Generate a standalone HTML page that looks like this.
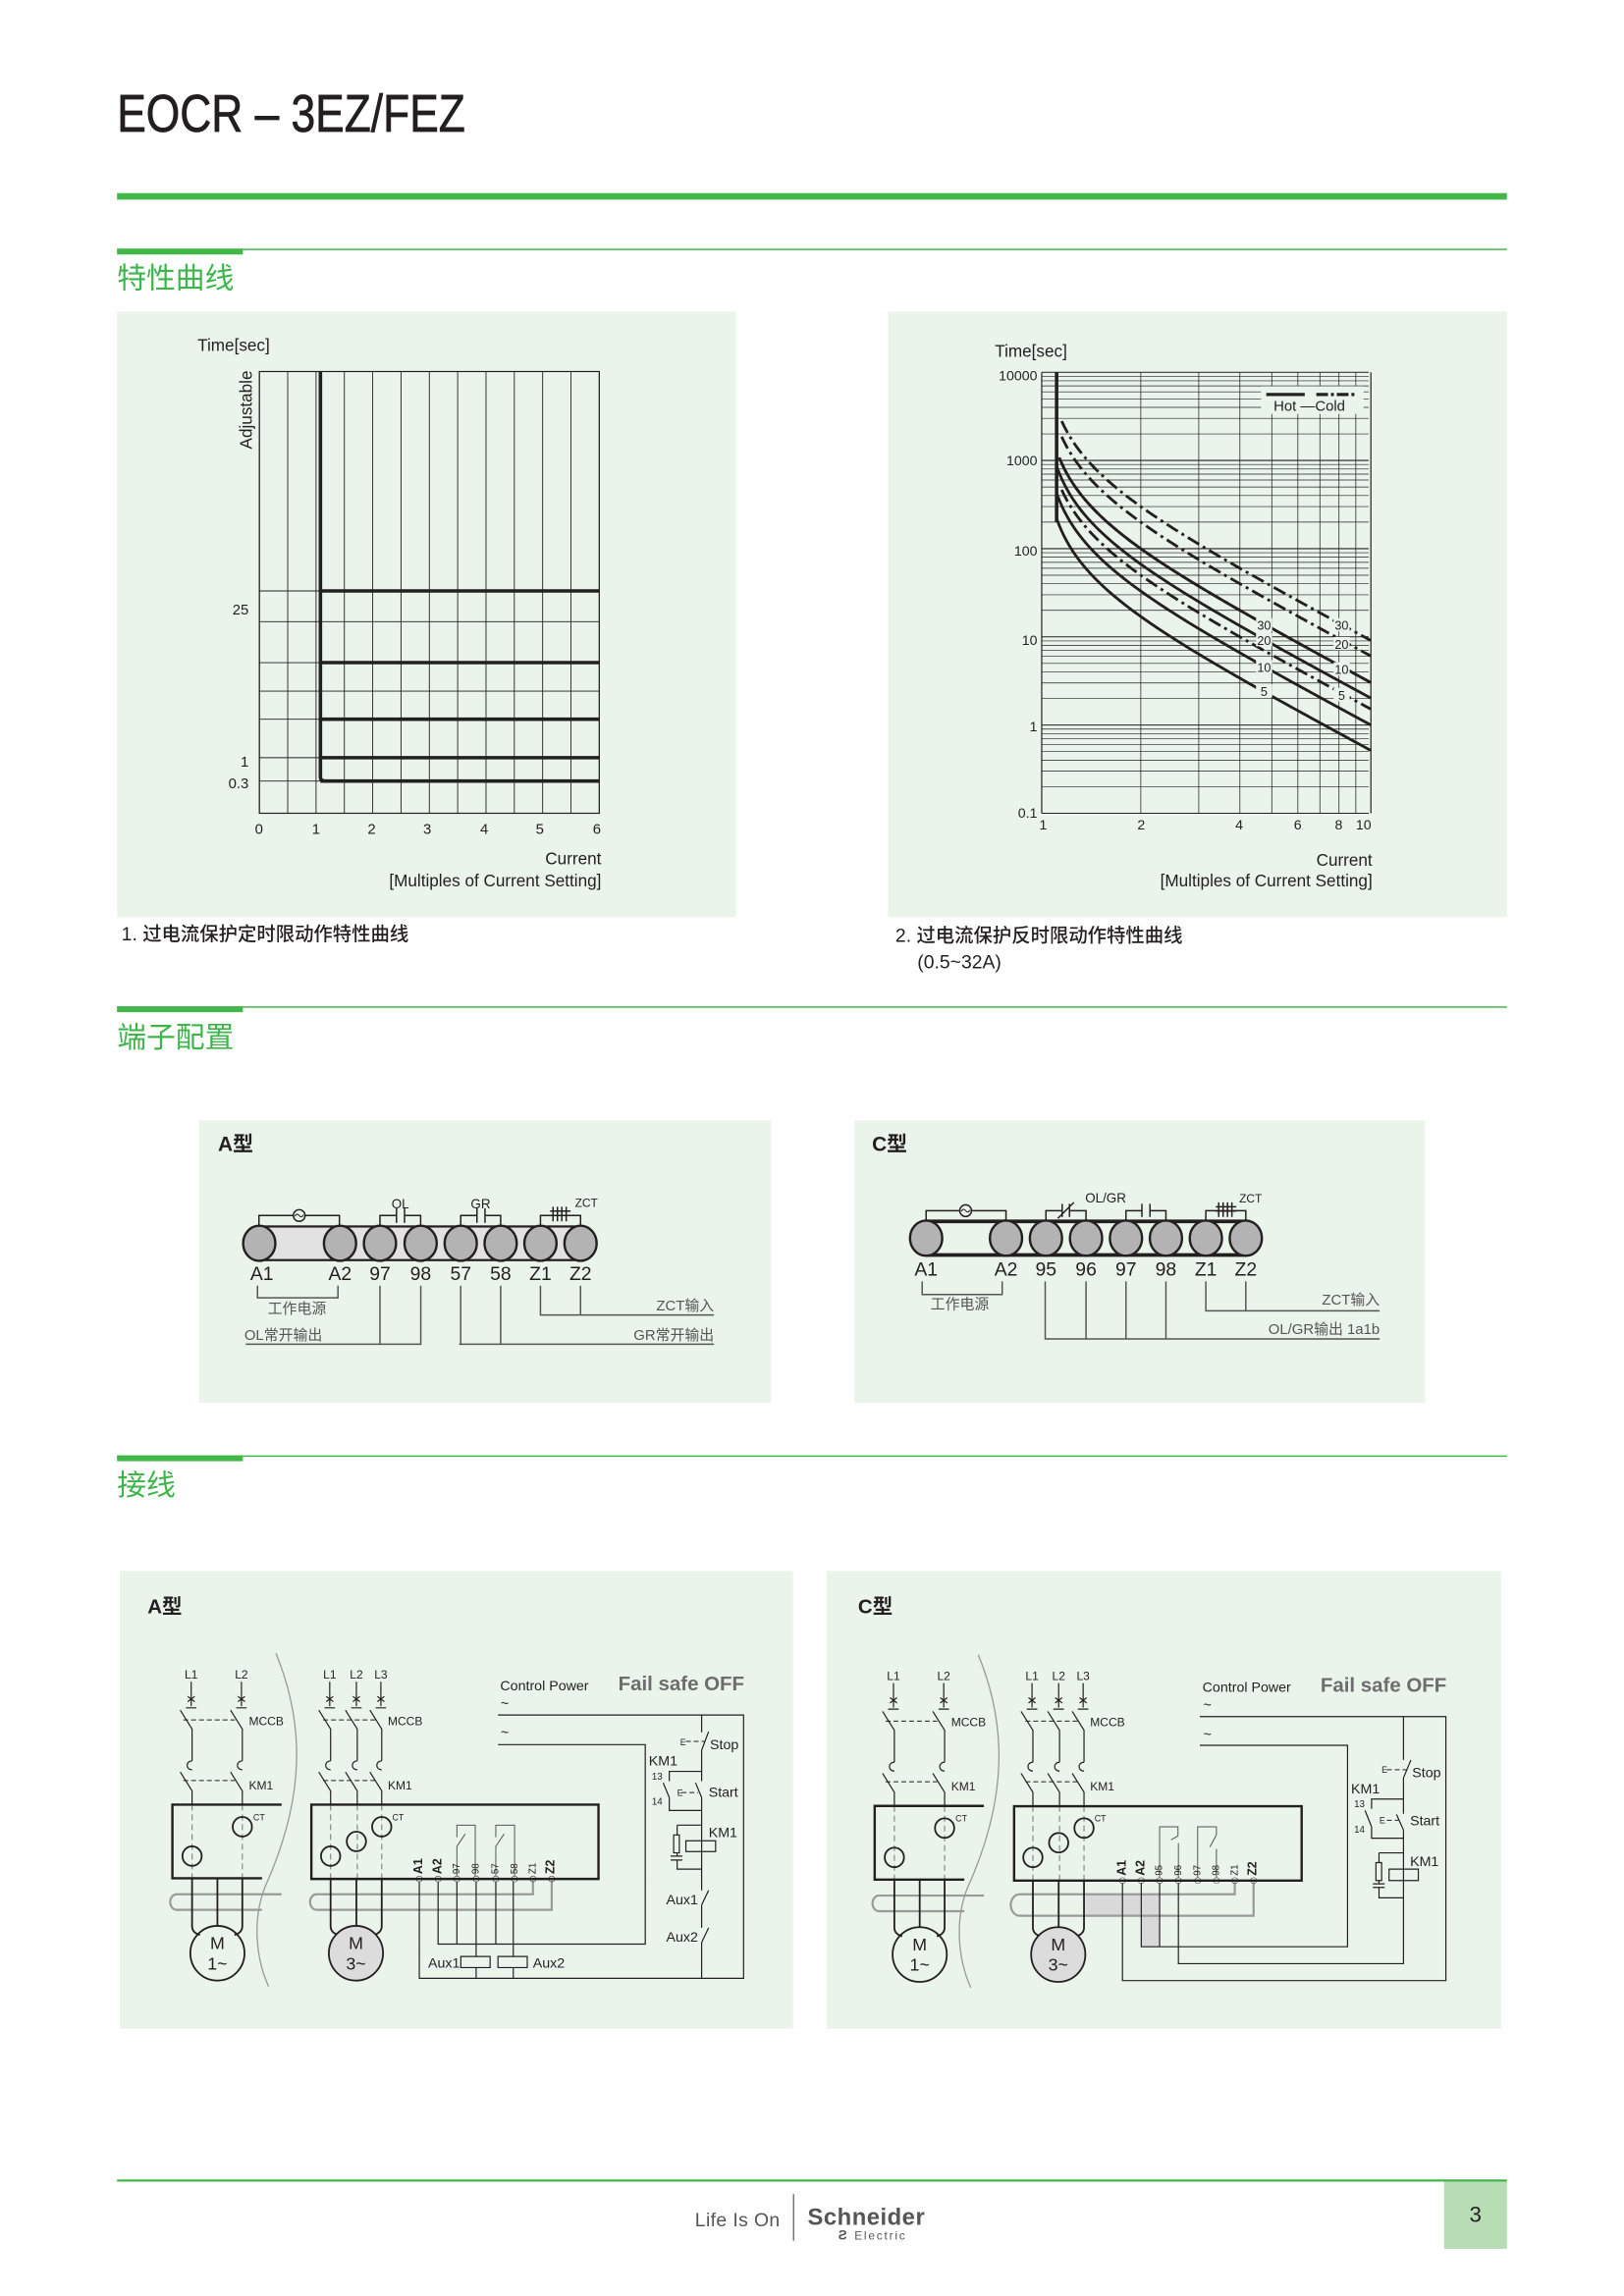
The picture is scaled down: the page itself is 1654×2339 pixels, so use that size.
<!DOCTYPE html>
<html><head><meta charset="utf-8">
<style>
html,body{margin:0;padding:0;background:#fff;}
svg{display:block;}
text{font-family:"Liberation Sans","Noto Sans CJK SC",sans-serif;fill:#231f20;}
.n{font-family:"Liberation Sans Narrow","Liberation Sans","Noto Sans CJK SC",sans-serif;}
.w{fill:none;stroke:#231f20;stroke-width:1.2;vector-effect:non-scaling-stroke;}
.wt{fill:none;stroke:#231f20;stroke-width:2.4;vector-effect:non-scaling-stroke;}
.wg{fill:none;stroke:#9a9a9a;stroke-width:2.2;vector-effect:non-scaling-stroke;}
.wd{fill:none;stroke:#231f20;stroke-width:1;stroke-dasharray:5 3;vector-effect:non-scaling-stroke;}
.gd{fill:none;stroke:#888;stroke-width:1.2;stroke-dasharray:6 4;vector-effect:non-scaling-stroke;}
.ws{fill:none;stroke:#555;stroke-width:1;vector-effect:non-scaling-stroke;}
</style></head>
<body>
<svg width="1654" height="2339" viewBox="0 0 1110 1569.7" preserveAspectRatio="none" xmlns="http://www.w3.org/2000/svg">
<defs>
<g id="leftpart">
  <path class="w" d="M168,345V420M156,425H180M160,390L176,406M176,390L160,406M143,432L170,490V588M170,588C155,588 155,615 170,615M143,622L170,680V722"/>
  <path class="w" d="M283,345V420M271,425H295M275,390L291,406M291,390L275,406M258,432L285,490V588M285,588C270,588 270,615 285,615M258,622L285,680V722"/>
  <path class="w" d="M485,345V420M473,425H497M477,390L493,406M493,390L477,406M460,432L487,490V588M487,588C472,588 472,615 487,615M460,622L487,680V722"/>
  <path class="w" d="M546,345V420M534,425H558M538,390L554,406M554,390L538,406M521,432L548,490V588M548,588C533,588 533,615 548,615M521,622L548,680V722"/>
  <path class="w" d="M602,345V420M590,425H614M594,390L610,406M610,390L594,406M577,432L604,490V588M604,588C589,588 589,615 604,615M577,622L604,680V722"/>
  <path class="wd" d="M150,462H268M150,648H268M470,462H590M470,648H590"/>
  <path class="gd" d="M170,722V948M285,722V948M487,722V948M548,722V948M604,722V948"/>
  <path class="wt" d="M375,722H125V948H330"/>
  <ellipse class="w" cx="170" cy="880" rx="22" ry="30" style="stroke-width:1.8"/>
  <ellipse class="w" cx="285" cy="790" rx="22" ry="30" style="stroke-width:1.8"/>
  <ellipse class="w" cx="487" cy="880" rx="22" ry="30" style="stroke-width:1.8"/>
  <ellipse class="w" cx="546" cy="835" rx="22" ry="30" style="stroke-width:1.8"/>
  <ellipse class="w" cx="604" cy="790" rx="22" ry="30" style="stroke-width:1.8"/>
  <path class="wg" d="M375,997H135A15,24 0 0 0 135,1045H330"/>
  <path class="w" style="stroke-width:1.8" d="M170,948V1095Q170,1115 188,1122M285,948V1095Q285,1115 267,1122M228,948V1094"/>
  <path class="w" style="stroke-width:1.8" d="M487,948V1095Q487,1115 505,1122M604,948V1095Q604,1115 586,1122M546,948V1094"/>
  <ellipse class="w" cx="228" cy="1178" rx="62" ry="84" style="stroke-width:1.8"/>
  <ellipse class="w" cx="545" cy="1178" rx="62" ry="84" style="stroke-width:1.8;fill:#dcdcdc"/>
  <path class="ws" style="stroke:#999;stroke-width:1.3" d="M362,258C430,480 425,700 345,950C305,1060 315,1190 345,1280"/>
  <g font-size="27" class="n">
    <text transform="translate(168,335) scale(1,1.34)" text-anchor="middle" class="n">L1</text>
    <text transform="translate(283,335) scale(1,1.34)" text-anchor="middle" class="n">L2</text>
    <text transform="translate(485,335) scale(1,1.34)" text-anchor="middle" class="n">L1</text>
    <text transform="translate(546,335) scale(1,1.34)" text-anchor="middle" class="n">L2</text>
    <text transform="translate(602,335) scale(1,1.34)" text-anchor="middle" class="n">L3</text>
    <text transform="translate(300,478) scale(1,1.34)" class="n">MCCB</text>
    <text transform="translate(618,478) scale(1,1.34)" class="n">MCCB</text>
    <text transform="translate(300,675) scale(1,1.34)" class="n">KM1</text>
    <text transform="translate(618,675) scale(1,1.34)" class="n">KM1</text>
    <text transform="translate(310,770) scale(1,1.34)" font-size="20" class="n">CT</text>
    <text transform="translate(628,770) scale(1,1.34)" font-size="20" class="n">CT</text>
  </g>
  <text transform="translate(228,1165) scale(1,1.34)" font-size="40" text-anchor="middle">M</text>
  <text transform="translate(228,1228) scale(1,1.34)" font-size="40" text-anchor="middle">1~</text>
  <text transform="translate(545,1165) scale(1,1.34)" font-size="40" text-anchor="middle">M</text>
  <text transform="translate(545,1228) scale(1,1.34)" font-size="40" text-anchor="middle">3~</text>
</g>
</defs>

<!-- header -->
<text x="80" y="90" font-size="36" textLength="238" lengthAdjust="spacingAndGlyphs" style="stroke:#231f20;stroke-width:0.5">EOCR – 3EZ/FEZ</text>
<rect x="80" y="132" width="950" height="4.5" fill="#41b649"/>

<!-- section 1 -->
<rect x="80" y="170" width="950" height="1" fill="#41b649"/>
<rect x="80" y="170" width="86" height="4" fill="#41b649"/>
<text x="80" y="197" font-size="20" style="fill:#3db54a" font-family="'Noto Sans CJK SC',sans-serif">特性曲线</text>

<rect x="80" y="213" width="423" height="414" fill="#eaf4ea"/>
<rect x="607" y="213" width="423" height="414" fill="#eaf4ea"/>

<!-- left chart -->
<g id="lc" stroke="#231f20" fill="none"></g>
<text x="135" y="240" font-size="11.5">Time[sec]</text>
<text transform="translate(172,307) rotate(-90)" font-size="11.5">Adjustable</text>
<g font-size="10" text-anchor="end">
<text x="170" y="420">25</text><text x="170" y="524">1</text><text x="170" y="539">0.3</text>
</g>
<g font-size="10" text-anchor="middle">
<text x="177" y="570">0</text><text x="216" y="570">1</text><text x="254" y="570">2</text><text x="292" y="570">3</text><text x="331" y="570">4</text><text x="369" y="570">5</text><text x="408" y="570">6</text>
</g>
<text x="411" y="591" font-size="11.5" text-anchor="end">Current</text>
<text x="411" y="606" font-size="11.5" text-anchor="end">[Multiples of Current Setting]</text>

<!-- right chart -->
<g id="rc" fill="none"></g>
<text x="680" y="244" font-size="11.5">Time[sec]</text>
<g font-size="9.5" text-anchor="end">
<text x="709" y="260">10000</text><text x="709" y="318">1000</text><text x="709" y="380">100</text><text x="709" y="441">10</text><text x="709" y="500">1</text><text x="709" y="559">0.1</text>
</g>
<g font-size="9.5" text-anchor="middle">
<text x="713" y="567">1</text><text x="780" y="567">2</text><text x="847" y="567">4</text><text x="887" y="567">6</text><text x="915" y="567">8</text><text x="932" y="567">10</text>
</g>
<text x="938" y="592" font-size="11.5" text-anchor="end">Current</text>
<text x="938" y="606" font-size="11.5" text-anchor="end">[Multiples of Current Setting]</text>

<text x="83" y="643" font-size="13" font-family="'Noto Sans CJK SC',sans-serif" style="fill:#231f20;font-weight:500">1. 过电流保护定时限动作特性曲线</text>
<text x="612" y="644" font-size="13" font-family="'Noto Sans CJK SC',sans-serif" style="font-weight:500">2. 过电流保护反时限动作特性曲线</text>
<text x="627" y="662" font-size="13" font-family="'Noto Sans CJK SC',sans-serif" style="font-weight:500">(0.5~32A)</text>

<!-- section 2 -->
<rect x="80" y="688" width="950" height="1" fill="#41b649"/>
<rect x="80" y="688" width="86" height="4" fill="#41b649"/>
<text x="80" y="716" font-size="20" style="fill:#3db54a" font-family="'Noto Sans CJK SC',sans-serif">端子配置</text>

<rect x="136" y="766" width="391" height="193" fill="#eaf4ea"/>
<rect x="584" y="766" width="390" height="193" fill="#eaf4ea"/>

<!-- A type terminals -->
<text x="149" y="787" font-size="14" class="n" font-weight="bold">A型</text>
<rect x="177" y="838.5" width="220" height="23" fill="#e2e2e2" stroke="#231f20" stroke-width="1.5"/>
<g fill="#b3b3b3" stroke="#231f20" stroke-width="1.6">
<ellipse cx="177.2" cy="850" rx="11" ry="12"/><ellipse cx="232.4" cy="850" rx="11" ry="12"/><ellipse cx="259.7" cy="850" rx="11" ry="12"/><ellipse cx="287.5" cy="850" rx="11" ry="12"/><ellipse cx="314.9" cy="850" rx="11" ry="12"/><ellipse cx="342.2" cy="850" rx="11" ry="12"/><ellipse cx="369.4" cy="850" rx="11" ry="12"/><ellipse cx="396.8" cy="850" rx="11" ry="12"/>
</g>
<g fill="none" stroke="#231f20" stroke-width="1">
<path d="M177,838V831H232V838M259.7,838V831H271M276.5,831H287.5V838M271,826V836M276.5,826V836"/>
<path d="M314.9,838V831H326M331.5,831H342.2V838M326,826V836M331.5,826V836"/>
<path d="M369.4,838V831H396.8V838M378,825V835M381,825V835M384,825V835M387,825V835M376,828H390M376,831H390"/>
<circle cx="204.5" cy="831" r="4" fill="#eaf4ea"/>
<path d="M201.5,831.5Q203,829 204.5,831T207.5,830.5" stroke-width="0.7"/>
</g>
<text x="273.6" y="826" font-size="9" text-anchor="middle" class="n">OL</text>
<text x="328.5" y="826" font-size="9" text-anchor="middle" class="n">GR</text>
<text x="393" y="825" font-size="8" class="n">ZCT</text>
<g font-size="13" class="n" text-anchor="middle">
<text x="179" y="875" class="n">A1</text><text x="232.4" y="875" class="n">A2</text><text x="259.7" y="875" class="n">97</text><text x="287.5" y="875" class="n">98</text><text x="314.9" y="875" class="n">57</text><text x="342.2" y="875" class="n">58</text><text x="369.4" y="875" class="n">Z1</text><text x="396.8" y="875" class="n">Z2</text>
</g>
<g fill="none" stroke="#555" stroke-width="1">
<path d="M176,879V887.3H231V879"/>
<path d="M168,919H287.6V879M259.7,879V919"/>
<path d="M313.8,919H488M314.9,879V919M342.2,879V919"/>
<path d="M369.4,879V899H488M396.8,879V899"/>
</g>
<g font-size="10" fill="#555" font-family="'Noto Sans CJK SC',sans-serif">
<text x="183" y="898" style="fill:#555">工作电源</text>
<text x="167" y="916" style="fill:#555">OL常开输出</text>
<text x="488" y="896" text-anchor="end" style="fill:#555">ZCT输入</text>
<text x="488" y="916" text-anchor="end" style="fill:#555">GR常开输出</text>
</g>

<!-- C type terminals -->
<text x="596" y="787" font-size="14" class="n" font-weight="bold">C型</text>
<path d="M633,835H851.5M633,858H851.5" stroke="#231f20" stroke-width="2.5"/>
<g fill="#b3b3b3" stroke="#231f20" stroke-width="1.6">
<ellipse cx="633" cy="846.5" rx="11" ry="12"/><ellipse cx="687.6" cy="846.5" rx="11" ry="12"/><ellipse cx="714.9" cy="846.5" rx="11" ry="12"/><ellipse cx="742.3" cy="846.5" rx="11" ry="12"/><ellipse cx="769.6" cy="846.5" rx="11" ry="12"/><ellipse cx="796.9" cy="846.5" rx="11" ry="12"/><ellipse cx="824.2" cy="846.5" rx="11" ry="12"/><ellipse cx="851.5" cy="846.5" rx="11" ry="12"/>
</g>
<g fill="none" stroke="#231f20" stroke-width="1">
<path d="M633,835V827.7H687.6V835"/>
<path d="M714.9,835V827.7H726M731,827.7H742.3V835M726,823V832M731,823V832M723,833L734,822"/>
<path d="M769.6,835V827.7H780.5M786,827.7H796.9V835M780.5,823V832M786,823V832"/>
<path d="M824.2,835V827.7H851.5V835M833,822V832M836,822V832M839,822V832M842,822V832M831,825H845M831,828H845"/>
<circle cx="660" cy="827.7" r="4" fill="#eaf4ea"/>
<path d="M657,828.2Q658.5,825.7 660,827.7T663,827.2" stroke-width="0.7"/>
</g>
<text x="755.7" y="822" font-size="9" text-anchor="middle" class="n">OL/GR</text>
<text x="847" y="822" font-size="8" class="n">ZCT</text>
<g font-size="13" class="n" text-anchor="middle">
<text x="633" y="872" class="n">A1</text><text x="687.6" y="872" class="n">A2</text><text x="714.9" y="872" class="n">95</text><text x="742.3" y="872" class="n">96</text><text x="769.6" y="872" class="n">97</text><text x="796.9" y="872" class="n">98</text><text x="824.2" y="872" class="n">Z1</text><text x="851.5" y="872" class="n">Z2</text>
</g>
<g fill="none" stroke="#555" stroke-width="1">
<path d="M630.3,876V885H685V876"/>
<path d="M714.4,876V915.4H943M742.3,876V915.4M769.6,876V915.4M796.9,876V915.4"/>
<path d="M824.2,876V896.2H943M851.5,876V896.2"/>
</g>
<g font-size="10" font-family="'Noto Sans CJK SC',sans-serif">
<text x="636" y="895" style="fill:#555">工作电源</text>
<text x="943" y="892" text-anchor="end" style="fill:#555">ZCT输入</text>
<text x="943" y="912" text-anchor="end" style="fill:#555">OL/GR输出 1a1b</text>
</g>

<!-- section 3 -->
<rect x="80" y="995" width="950" height="1" fill="#41b649"/>
<rect x="80" y="995" width="86" height="4" fill="#41b649"/>
<text x="80" y="1022" font-size="20" style="fill:#3db54a" font-family="'Noto Sans CJK SC',sans-serif">接线</text>

<rect x="82" y="1074" width="460" height="313" fill="#eaf4ea"/>
<rect x="565" y="1074" width="461" height="313" fill="#eaf4ea"/>

<!-- A wiring -->
<g transform="translate(80.5,1072.9) scale(0.2987,0.2228)">
  <text transform="translate(68,135) scale(1,1.34)" font-size="46" font-weight="bold" class="n">A型</text>
  <path class="wg" d="M950,955V997H455A15,24 0 0 0 455,1045H993V955"/>
  <use href="#leftpart"/>
  <rect x="443" y="722" width="657" height="228" class="wt"/>
  <path class="ws" d="M776,942V850L795,812M776,822V785H818V942M865,942V850L884,812M865,822V785H908V942"/>
  <path class="w" d="M690,958V1255H1432V447H870M733,958V1150H1207V538H870M776,958V1150M865,958V1150M820,958V1188M820,1222V1255M905,958V1188M905,1222V1255"/>
  <rect x="785" y="1188" width="67" height="34" fill="#d4d4d4" class="w"/>
  <rect x="870" y="1188" width="67" height="34" fill="#d4d4d4" class="w"/>
  <g fill="#fff" class="w">
  <ellipse cx="690" cy="950" rx="7" ry="9"/><ellipse cx="733" cy="950" rx="7" ry="9"/><ellipse cx="776" cy="950" rx="7" ry="9"/><ellipse cx="820" cy="950" rx="7" ry="9"/><ellipse cx="865" cy="950" rx="7" ry="9"/><ellipse cx="908" cy="950" rx="7" ry="9"/><ellipse cx="950" cy="950" rx="7" ry="9"/><ellipse cx="993" cy="950" rx="7" ry="9"/>
  </g>
  <g class="n">
  <text transform="translate(697,935) scale(1,1.34) rotate(-90)" font-size="28" font-weight="bold" class="n">A1</text>
  <text transform="translate(740,935) scale(1,1.34) rotate(-90)" font-size="28" font-weight="bold" class="n">A2</text>
  <text transform="translate(782,935) scale(1,1.34) rotate(-90)" font-size="22" class="n">97</text>
  <text transform="translate(826,935) scale(1,1.34) rotate(-90)" font-size="22" class="n">98</text>
  <text transform="translate(871,935) scale(1,1.34) rotate(-90)" font-size="22" class="n">57</text>
  <text transform="translate(914,935) scale(1,1.34) rotate(-90)" font-size="22" class="n">58</text>
  <text transform="translate(956,935) scale(1,1.34) rotate(-90)" font-size="22" class="n">Z1</text>
  <text transform="translate(999,935) scale(1,1.34) rotate(-90)" font-size="28" font-weight="bold" class="n">Z2</text>
  </g>
  <path class="w" d="M1336,447V500M1336,555L1352,498M1336,555V650M1336,700L1322,655M1336,700V985M1336,1030L1352,985M1336,1030V1100M1336,1145L1352,1100M1336,1145V1255"/>
  <path class="w" d="M1336,620H1262V650M1262,700L1248,655M1262,700V740H1336"/>
  <path class="wd" d="M1300,528H1343M1290,685H1328"/>
  <path class="w" d="M1280,785H1336M1280,785V815M1280,870V880M1265,880H1292M1265,892H1292M1280,892V920H1336"/>
  <rect x="1272" y="815" width="13" height="55" fill="#d4d4d4" class="w"/>
  <rect x="1300" y="833" width="68" height="33" fill="#d4d4d4" class="w"/>
  <g font-size="32" class="n">
  <text transform="translate(875,372) scale(1,1.34)" class="n">Control Power</text>
  <text transform="translate(1145,372) scale(1,1.34)" font-size="46" font-weight="bold" class="n" style="fill:#6d6d6d">Fail safe OFF</text>
  <text transform="translate(876,425) scale(1,1.34)" class="n">~</text>
  <text transform="translate(876,515) scale(1,1.34)" class="n">~</text>
  <text transform="translate(1355,552) scale(1,1.34)" class="n">Stop</text>
  <text transform="translate(1287,540) scale(1,1.34)" font-size="20" class="n">E</text>
  <text transform="translate(1280,695) scale(1,1.34)" font-size="20" class="n">E</text>
  <text transform="translate(1215,602) scale(1,1.34)" class="n">KM1</text>
  <text transform="translate(1222,645) scale(1,1.34)" font-size="22" class="n">13</text>
  <text transform="translate(1222,722) scale(1,1.34)" font-size="22" class="n">14</text>
  <text transform="translate(1352,698) scale(1,1.34)" class="n">Start</text>
  <text transform="translate(1352,822) scale(1,1.34)" class="n">KM1</text>
  <text transform="translate(1255,1028) scale(1,1.34)" class="n">Aux1</text>
  <text transform="translate(1255,1143) scale(1,1.34)" class="n">Aux2</text>
  <text transform="translate(710,1222) scale(1,1.34)" class="n">Aux1</text>
  <text transform="translate(950,1222) scale(1,1.34)" class="n">Aux2</text>
  </g>
</g>

<!-- C wiring -->
<g transform="translate(562.6,1072.9) scale(0.2987,0.2228)">
  <text transform="translate(80,135) scale(1,1.34)" font-size="46" font-weight="bold" class="n">C型</text>
  <rect x="600" y="998" width="170" height="67" fill="#d9d9d9"/>
  <rect x="728" y="998" width="42" height="162" fill="#d9d9d9"/>
  <path class="wg" d="M942,960V997H450A15,24 0 0 0 450,1063H985V960"/>
  <use href="#leftpart" transform="translate(-7,4)"/>
  <rect x="437" y="727" width="658" height="228" class="wt"/>
  <path class="ws" d="M770,947V790H812V818L796,830M813,840V947M857,947V790H900V815M900,815L885,852M900,858V947"/>
  <path class="w" d="M685,962V1262H1425V452H862M728,962V1158H1200V540H862M770,962V1158M813,962V1210H1328V1008"/>
  <g fill="#fff" class="w">
  <ellipse cx="685" cy="955" rx="7" ry="9"/><ellipse cx="728" cy="955" rx="7" ry="9"/><ellipse cx="770" cy="955" rx="7" ry="9"/><ellipse cx="813" cy="955" rx="7" ry="9"/><ellipse cx="857" cy="955" rx="7" ry="9"/><ellipse cx="900" cy="955" rx="7" ry="9"/><ellipse cx="942" cy="955" rx="7" ry="9"/><ellipse cx="985" cy="955" rx="7" ry="9"/>
  </g>
  <g class="n">
  <text transform="translate(692,940) scale(1,1.34) rotate(-90)" font-size="28" font-weight="bold" class="n">A1</text>
  <text transform="translate(735,940) scale(1,1.34) rotate(-90)" font-size="28" font-weight="bold" class="n">A2</text>
  <text transform="translate(776,940) scale(1,1.34) rotate(-90)" font-size="22" class="n">95</text>
  <text transform="translate(819,940) scale(1,1.34) rotate(-90)" font-size="22" class="n">96</text>
  <text transform="translate(863,940) scale(1,1.34) rotate(-90)" font-size="22" class="n">97</text>
  <text transform="translate(906,940) scale(1,1.34) rotate(-90)" font-size="22" class="n">98</text>
  <text transform="translate(948,940) scale(1,1.34) rotate(-90)" font-size="22" class="n">Z1</text>
  <text transform="translate(991,940) scale(1,1.34) rotate(-90)" font-size="28" font-weight="bold" class="n">Z2</text>
  </g>
  <path class="w" d="M1328,452V585M1328,640L1345,585M1328,640V750M1328,800L1312,752M1328,800V1008"/>
  <path class="w" d="M1328,705H1255V735M1255,790L1240,740M1255,790V825H1328"/>
  <path class="wd" d="M1290,615H1335M1290,770H1320"/>
  <path class="w" d="M1272,870H1328M1272,870V900M1272,955V965M1258,965H1285M1258,976H1285M1272,976V1008H1328"/>
  <rect x="1265" y="900" width="13" height="55" fill="#d4d4d4" class="w"/>
  <rect x="1295" y="920" width="67" height="35" fill="#d4d4d4" class="w"/>
  <g font-size="32" class="n">
  <text transform="translate(868,376) scale(1,1.34)" class="n">Control Power</text>
  <text transform="translate(1138,376) scale(1,1.34)" font-size="46" font-weight="bold" class="n" style="fill:#6d6d6d">Fail safe OFF</text>
  <text transform="translate(870,430) scale(1,1.34)" class="n">~</text>
  <text transform="translate(870,520) scale(1,1.34)" class="n">~</text>
  <text transform="translate(1348,638) scale(1,1.34)" class="n">Stop</text>
  <text transform="translate(1278,625) scale(1,1.34)" font-size="20" class="n">E</text>
  <text transform="translate(1273,780) scale(1,1.34)" font-size="20" class="n">E</text>
  <text transform="translate(1208,688) scale(1,1.34)" class="n">KM1</text>
  <text transform="translate(1215,730) scale(1,1.34)" font-size="22" class="n">13</text>
  <text transform="translate(1215,808) scale(1,1.34)" font-size="22" class="n">14</text>
  <text transform="translate(1343,785) scale(1,1.34)" class="n">Start</text>
  <text transform="translate(1343,910) scale(1,1.34)" class="n">KM1</text>
  </g>
</g>

<!-- footer -->
<rect x="80" y="1490" width="950" height="1.5" fill="#41b649"/>
<rect x="987" y="1491.5" width="43" height="46" fill="#b8ddb5"/>
<text x="1008.5" y="1519" font-size="15" text-anchor="middle" class="n">3</text>
<text x="475" y="1522" font-size="13" class="n" style="fill:#555" textLength="58">Life Is On</text>
<rect x="542" y="1500" width="0.8" height="32" fill="#555"/>
<text x="552" y="1521" font-size="16" font-weight="bold" class="n" style="fill:#555" textLength="80">Schneider</text>
<text x="584" y="1531" font-size="8" style="fill:#555" letter-spacing="1.2">Electric</text>
<text x="573" y="1531" font-size="9" font-weight="bold" style="fill:#555">Ƨ</text>
</svg>
<script>
(function(){
var NS="http://www.w3.org/2000/svg";
function el(p,tag,a){var e=document.createElementNS(NS,tag);for(var k in a)e.setAttribute(k,a[k]);p.appendChild(e);return e;}
// left chart
var lc=document.getElementById("lc");
for(var i=0;i<=12;i++){var x=177.3+i*19.36;el(lc,"line",{x1:x,y1:254,x2:x,y2:556,"stroke-width":0.6});}
[425,472.5].forEach(function(y){el(lc,"line",{x1:177.3,y1:y,x2:409.6,y2:y,"stroke-width":0.6});});
[404,453,491.7,518,534].forEach(function(y){el(lc,"line",{x1:177.3,y1:y,x2:219,y2:y,"stroke-width":0.6});
 el(lc,"line",{x1:219,y1:y,x2:409.6,y2:y,"stroke-width":2.4});});
el(lc,"rect",{x:177.3,y:254,width:232.3,height:302,"stroke-width":0.8});
el(lc,"path",{d:"M219,254V531Q219,534 222,534","stroke-width":2.4});
// right chart
var rc=document.getElementById("rc");
function X(m){return 712+225*Math.log10(m);}
function Y(t){return 556-60.3*(Math.log10(t)+1);}
for(var d=-1;d<=3;d++)for(var k=1;k<=9;k++){var y=Y(k*Math.pow(10,d));el(rc,"line",{x1:712,y1:y,x2:935.5,y2:y,stroke:"#231f20","stroke-width":k==1?0.7:0.45});}
el(rc,"line",{x1:712,y1:Y(10000),x2:935.5,y2:Y(10000),stroke:"#231f20","stroke-width":0.7});
for(var m=1;m<=10;m++){var x=X(m);el(rc,"line",{x1:x,y1:254.5,x2:x,y2:556,stroke:"#231f20","stroke-width":m==1||m==10?0.8:0.5});}
el(rc,"rect",{x:862,y:264,width:70,height:19,fill:"#eaf4ea"});
el(rc,"line",{x1:722.2,y1:254.5,x2:722.2,y2:Y(200),stroke:"#231f20","stroke-width":2.4});
function curve(k,m0,tmax,dash){var pts=[];var first=true;for(var i=0;i<=120;i++){var m=m0*Math.pow(10/m0,i/120);var t=k/(m*m-1);if(t>tmax)continue;pts.push((first?"M":"L")+X(m).toFixed(2)+","+Y(t).toFixed(2));first=false;}
 var a={d:pts.join(""),stroke:"#231f20","stroke-width":1.9,fill:"none"};if(dash)a["stroke-dasharray"]="9,3,2,3";el(rc,"path",a);}
[51,99,200,300].forEach(function(k){curve(k,1.11,1100,false);});
[150,300,600,900].forEach(function(k){curve(k,1.15,3000,true);});
el(rc,"line",{x1:865.5,y1:269.7,x2:891.8,y2:269.7,stroke:"#231f20","stroke-width":2.2});
el(rc,"line",{x1:899.7,y1:269.7,x2:926.6,y2:269.7,stroke:"#231f20","stroke-width":2.2,"stroke-dasharray":"8,2,2,2"});
var lab=[["30",864,427.6],["20",864,437.8],["10",864,456.3],["5",864,472.7],["30",917,427.6],["20",917,440.5],["10",917,457.8],["5",917,475.4]];
lab.forEach(function(l){el(rc,"rect",{x:l[1]-5.5,y:l[2]-5,width:11,height:9,fill:"#eaf4ea"});});
var g=el(rc,"g",{});
lab.forEach(function(l){var t=el(g,"text",{x:l[1],y:l[2]+3,"font-size":8.5,"text-anchor":"middle"});t.textContent=l[0];});
var t=el(rc,"text",{x:870.5,y:281,"font-size":10});t.textContent="Hot —Cold";
})();
</script>
</body></html>
